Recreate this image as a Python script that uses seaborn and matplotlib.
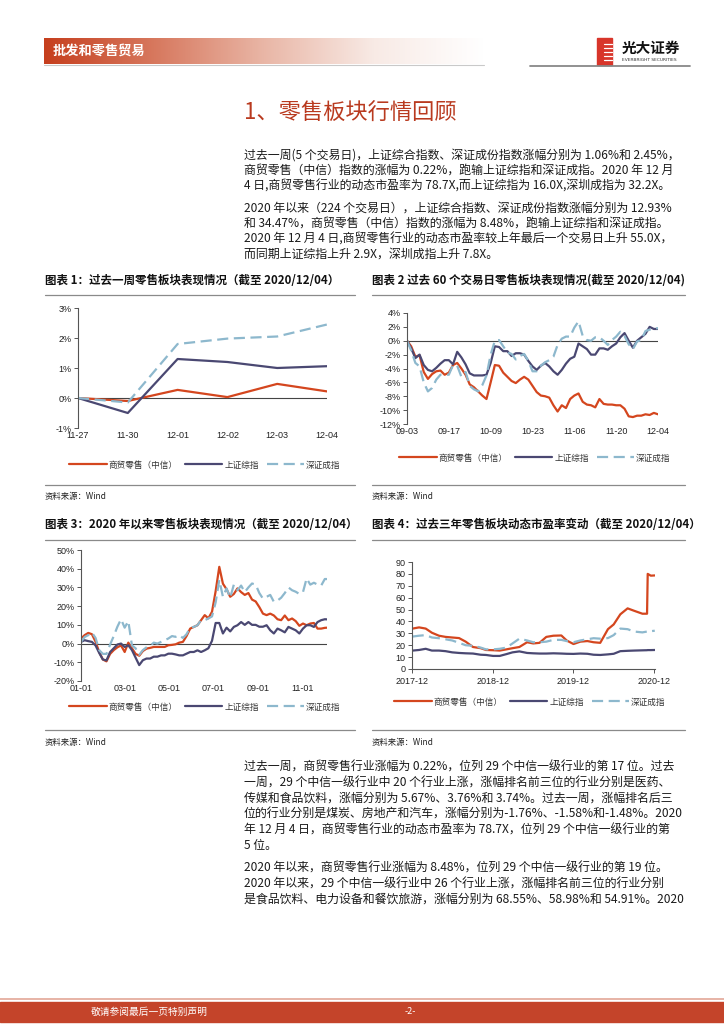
import numpy as np
import pandas as pd
import matplotlib
matplotlib.use("Agg")
import matplotlib.pyplot as plt
import matplotlib.ticker as mticker
import matplotlib.dates as mdates
from matplotlib.lines import Line2D
from matplotlib.patches import Rectangle
from matplotlib.colors import LinearSegmentedColormap
import seaborn as sns

sns.set_theme(style="white")
plt.rcParams["font.family"] = ["Noto Sans CJK SC", "DejaVu Sans"]
plt.rcParams["axes.unicode_minus"] = False

W, H = 724, 1024
RED = "#D4461E"
NAVY = "#4A4872"
BLUE = "#8DB8CD"
SERIES = ["商贸零售（中信）", "上证综指", "深证成指"]

# 图表1: past week, cumulative %
week_days = ["11-27", "11-30", "12-01", "12-02", "12-03", "12-04"]
week_retail = [0.0, -0.10, 0.27, 0.03, 0.47, 0.22]
week_sh = [0.0, -0.50, 1.30, 1.20, 1.00, 1.06]
week_sz = [0.0, -0.15, 1.80, 1.98, 2.05, 2.45]

# 图表2: past 60 trading days, cumulative %
d60_labels = ["09-03", "09-17", "10-09", "10-23", "11-06", "11-20", "12-04"]
d60_retail = [0.0, -0.8, -2.3, -2.1, -4.5, -5.5, -4.8, -4.4, -4.3, -4.9,
              -4.6, -3.5, -3.2, -4.0, -4.9, -6.3, -6.7, -7.3, -7.9, -8.4,
              -6.0, -3.5, -3.6, -4.6, -5.2, -5.8, -6.1, -5.6, -5.2, -5.6,
              -6.5, -7.4, -7.9, -8.0, -8.2, -9.3, -10.2, -9.3, -9.7, -8.4,
              -7.9, -7.6, -8.8, -9.2, -9.3, -9.6, -8.4, -9.1, -9.2, -9.2,
              -9.3, -9.3, -9.8, -10.9, -11.0, -10.8, -10.8, -10.6, -10.7, -10.4,
              -10.6]
d60_sh = [0.0, -1.1, -2.5, -2.0, -3.5, -4.2, -4.4, -3.9, -3.3, -2.8,
          -2.8, -3.4, -1.6, -2.4, -3.4, -4.7, -5.0, -5.0, -5.0, -4.9,
          -3.2, -0.8, -0.9, -1.5, -1.5, -2.2, -1.8, -1.8, -2.0, -2.9,
          -3.7, -4.2, -3.6, -3.2, -3.7, -4.4, -4.9, -4.2, -3.3, -2.6,
          -2.3, -0.4, -0.8, -1.2, -2.0, -2.0, -1.1, -1.1, -1.3, -0.8,
          -0.4, 0.5, 1.1, 0.0, -1.0, 0.0, 0.5, 1.0, 2.0, 1.7,
          1.7]
d60_sz = [0.0, -1.4, -3.2, -3.7, -6.0, -7.3, -6.8, -5.6, -4.9, -4.9,
          -4.9, -3.5, -3.6, -5.2, -4.5, -6.5, -7.0, -7.3, -6.4, -5.0,
          -2.0, 0.0, 0.1, -0.8, -1.7, -1.9, -2.7, -2.2, -1.9, -2.9,
          -4.4, -4.4, -3.6, -3.1, -2.8, -2.3, -0.6, 0.3, 0.6, 0.6,
          1.9, 2.8, 0.7, 0.1, 0.0, 0.5, 0.5, 0.0, -0.6, 0.1,
          0.6, 1.3, 0.7, -0.5, -1.2, -0.1, 0.1, 1.4, 1.6, 1.8,
          1.8]

# 图表3: year to date, cumulative %
ytd_dates = ["01-01", "01-06", "01-11", "01-16", "01-21", "01-26", "01-31",
             "02-05", "02-10", "02-15", "02-20", "02-25",
             "03-01", "03-06", "03-11", "03-16", "03-21", "03-26", "03-31",
             "04-05", "04-10", "04-15", "04-20", "04-25", "04-30",
             "05-05", "05-10", "05-15", "05-20", "05-25", "05-30",
             "06-04", "06-09", "06-14", "06-19", "06-24", "06-29",
             "07-04", "07-09", "07-14", "07-19", "07-24", "07-29",
             "08-03", "08-08", "08-13", "08-18", "08-23", "08-28",
             "09-02", "09-07", "09-12", "09-17", "09-22", "09-27",
             "10-02", "10-07", "10-12", "10-17", "10-22", "10-27",
             "11-01", "11-06", "11-11", "11-16", "11-21", "11-26",
             "12-01", "12-04"]
ytd_retail = [2.7, 4.5, 5.7, 5.0, 1.0, -4.5, -8.5, -9.5, -5.5, -3.5,
              -2.0, -1.0, -4.5, 0.5, -2.5, -5.5, -6.5, -4.0, -2.7, -2.3,
              -1.8, -1.8, -1.8, -1.8, -0.9, -0.7, -0.4, 0.5, 0.9, 4.0,
              8.0, 8.9, 9.8, 12.5, 15.2, 13.5, 17.0, 28.0, 41.0, 32.0,
              29.0, 25.0, 26.5, 29.5, 27.5, 26.0, 27.0, 23.5, 22.5, 19.5,
              16.0, 15.2, 16.0, 15.0, 13.0, 12.5, 15.0, 12.5, 13.4, 12.0,
              9.5, 10.7, 9.8, 10.7, 11.0, 8.0, 8.0, 8.4, 8.48]
ytd_sh = [0.9, 1.8, 1.3, 0.9, -1.0, -5.0, -8.5, -9.0, -4.5, -2.5,
          -0.5, 0.0, -1.8, -0.9, -3.5, -7.5, -11.5, -8.9, -8.0, -8.0,
          -7.0, -7.0, -6.3, -6.3, -5.4, -5.4, -5.8, -6.3, -6.3, -5.4,
          -4.5, -4.5, -3.6, -4.5, -3.6, -2.5, 1.5, 11.0, 11.0, 5.4,
          8.5, 6.5, 8.9, 9.8, 11.5, 10.0, 11.5, 10.0, 10.0, 9.0,
          9.0, 9.8, 7.1, 5.4, 8.0, 7.1, 6.0, 8.9, 8.0, 7.1,
          5.4, 8.0, 9.8, 9.8, 8.9, 11.5, 12.5, 13.0, 12.93]
ytd_sz = [0.9, 3.5, 4.5, 5.9, 3.0, -3.5, -5.5, -5.5, -0.5, 4.0,
          9.0, 13.0, 8.5, 12.0, -1.0, -2.5, -6.0, -3.5, -2.0, -1.2,
          0.5, 0.0, 0.9, 1.8, 2.7, 4.0, 3.6, 4.5, 3.0, 5.0,
          8.5, 8.9, 9.8, 12.5, 12.5, 13.4, 14.5, 22.0, 34.0, 25.0,
          29.5, 24.5, 31.5, 28.5, 31.0, 27.5, 30.0, 32.1, 31.5, 27.0,
          24.0, 25.0, 26.0, 22.3, 23.0, 24.5, 27.0, 30.0, 28.5, 27.7,
          26.5, 27.5, 34.8, 31.5, 32.5, 31.5, 31.0, 34.5, 34.47]

# 图表4: dynamic PE, past three years
pe_dates = ["2017-12-04", "2018-01-02", "2018-02-01", "2018-03-01", "2018-04-02",
            "2018-05-02", "2018-06-01", "2018-07-02", "2018-08-01", "2018-09-03",
            "2018-10-08", "2018-11-01", "2018-12-03", "2019-01-02", "2019-02-01",
            "2019-03-01", "2019-04-01", "2019-05-06", "2019-06-03", "2019-07-01",
            "2019-08-01", "2019-09-02", "2019-10-08", "2019-11-01", "2019-12-02",
            "2020-01-02", "2020-02-03", "2020-03-02", "2020-04-01", "2020-05-06",
            "2020-06-01", "2020-07-01", "2020-08-03", "2020-09-01", "2020-10-09",
            "2020-10-30", "2020-11-02", "2020-11-16", "2020-12-04"]
pe_retail = [34.0, 35.0, 34.0, 30.5, 28.0, 27.0, 26.5, 26.0, 23.0, 18.5,
             17.5, 16.0, 15.8, 15.5, 16.5, 17.5, 18.5, 22.5, 21.5, 22.0,
             27.0, 28.0, 28.2, 24.0, 21.0, 23.0, 23.5, 22.5, 22.0, 33.5,
             37.5, 46.0, 51.0, 49.0, 46.5, 46.5, 80.0, 78.5, 78.7]
pe_sh = [15.5, 16.0, 17.0, 15.5, 15.5, 15.0, 14.0, 13.5, 13.2, 13.0,
         12.0, 11.8, 11.0, 11.0, 12.5, 14.0, 14.8, 13.5, 13.2, 13.0,
         13.0, 13.2, 13.0, 12.8, 12.7, 13.0, 12.8, 12.0, 11.8, 12.3,
         12.8, 15.0, 15.3, 15.5, 15.7, 15.8, 15.9, 15.9, 16.0]
pe_sz = [27.3, 28.0, 28.5, 26.5, 25.9, 25.0, 24.0, 22.0, 20.0, 19.5,
         18.0, 16.5, 16.5, 17.0, 18.0, 21.5, 25.5, 24.0, 22.5, 22.5,
         23.0, 24.5, 24.5, 23.5, 22.5, 24.0, 25.0, 25.9, 25.5, 26.0,
         28.5, 34.0, 33.5, 31.5, 30.8, 31.5, 32.0, 31.8, 32.2]

para_top = [
    "过去一周(5 个交易日)，上证综合指数、深证成份指数涨幅分别为 1.06%和 2.45%，",
    "商贸零售（中信）指数的涨幅为 0.22%，跑输上证综指和深证成指。2020 年 12 月",
    "4 日,商贸零售行业的动态市盈率为 78.7X,而上证综指为 16.0X,深圳成指为 32.2X。",
]
para_top2 = [
    "2020 年以来（224 个交易日），上证综合指数、深证成份指数涨幅分别为 12.93%",
    "和 34.47%，商贸零售（中信）指数的涨幅为 8.48%，跑输上证综指和深证成指。",
    "2020 年 12 月 4 日,商贸零售行业的动态市盈率较上年最后一个交易日上升 55.0X，",
    "而同期上证综指上升 2.9X，深圳成指上升 7.8X。",
]
para_low = [
    "过去一周，商贸零售行业涨幅为 0.22%，位列 29 个中信一级行业的第 17 位。过去",
    "一周，29 个中信一级行业中 20 个行业上涨，涨幅排名前三位的行业分别是医药、",
    "传媒和食品饮料，涨幅分别为 5.67%、3.76%和 3.74%。过去一周，涨幅排名后三",
    "位的行业分别是煤炭、房地产和汽车，涨幅分别为-1.76%、-1.58%和-1.48%。2020",
    "年 12 月 4 日，商贸零售行业的动态市盈率为 78.7X，位列 29 个中信一级行业的第",
    "5 位。",
]
para_low2 = [
    "2020 年以来，商贸零售行业涨幅为 8.48%，位列 29 个中信一级行业的第 19 位。",
    "2020 年以来，29 个中信一级行业中 26 个行业上涨，涨幅排名前三位的行业分别",
    "是食品饮料、电力设备和餐饮旅游，涨幅分别为 68.55%、58.98%和 54.91%。2020",
]

fig = plt.figure(figsize=(W / 100, H / 100), dpi=100)


def fx(x):
    return x / W


def fy(y):
    return 1 - y / H


def put(x, y, s, **kw):
    kw.setdefault("va", "center")
    fig.text(fx(x), fy(y), s, **kw)


def hline(x0, x1, y, color="#8a8a8a", lw=0.9):
    fig.add_artist(Line2D([fx(x0), fx(x1)], [fy(y), fy(y)], color=color,
                          lw=lw, transform=fig.transFigure))


def add_axes(x0, x1, y_top, y_bot):
    return fig.add_axes([fx(x0), fy(y_bot), (x1 - x0) / W, (y_bot - y_top) / H])


def draw_series(ax, x, retail, sh, sz):
    sns.lineplot(x=x, y=retail, ax=ax, color=RED, lw=1.6, label=SERIES[0])
    sns.lineplot(x=x, y=sh, ax=ax, color=NAVY, lw=1.6, label=SERIES[1])
    sns.lineplot(x=x, y=sz, ax=ax, color=BLUE, lw=1.6, ls=(0, (5, 2.5)),
                 label=SERIES[2])


def style(ax, zero_line=True):
    for s in ["top", "right", "bottom"]:
        ax.spines[s].set_visible(False)
    ax.spines["left"].set_color("#555555")
    ax.spines["left"].set_linewidth(0.8)
    ax.tick_params(axis="y", left=True, direction="out", length=3, width=0.7,
                   color="#555555", labelsize=6.5, pad=1.5,
                   labelfontfamily="Liberation Sans", labelcolor="#222222")
    ax.tick_params(axis="x", bottom=False, length=0, labelsize=6.5, pad=2.5,
                   labelfontfamily="Liberation Sans", labelcolor="#222222")
    if zero_line:
        ax.axhline(0, color="#444444", lw=0.8, zorder=1)
    ax.set_xlabel("")
    ax.set_ylabel("")
    ax.grid(False)


def legend(ax, cx, cy):
    h, l = ax.get_legend_handles_labels()
    ax.legend(h, l, loc="center", bbox_to_anchor=(fx(cx), fy(cy)),
              bbox_transform=fig.transFigure, ncol=3, frameon=False,
              fontsize=6.2, handlelength=4.3, handletextpad=0.25,
              columnspacing=0.9, labelcolor="#333333")


def frame(x0, x1, y_title, y_top, y_bot, y_src, title):
    put(x0, y_title, title, fontsize=8.3, fontweight="bold", color="#111111")
    hline(x0, x1, y_top)
    hline(x0, x1, y_bot)
    put(x0, y_src, "资料来源：Wind", fontsize=6, color="#222222")


pct = mticker.FuncFormatter(lambda v, p: f"{v:.0f}%")

# header
band = fig.add_axes([fx(44), fy(64), (484 - 44) / W, (64 - 38) / H])
band_cmap = LinearSegmentedColormap.from_list(
    "band", ["#C63F1E", "#D7785E", "#E9B6A6", "#F8EAE5", "#FFFFFF"])
band.imshow(np.linspace(0, 1, 256)[None, :], aspect="auto", cmap=band_cmap,
            extent=(0, 1, 0, 1))
band.axis("off")
put(53, 51, "批发和零售贸易", fontsize=9.5, fontweight="bold", color="white")
hline(44, 484, 65, color="#c9c9c9", lw=0.8)
fig.add_artist(Rectangle((fx(597), fy(65)), 15 / W, 27 / H, color="#D8352A",
                         transform=fig.transFigure))
for yy in [44, 48, 52, 56, 60]:
    hline(604, 612, yy, color="white", lw=0.9)
put(622, 48, "光大证券", fontsize=10.5, fontweight="bold", color="#111111")
put(622, 60, "EVERBRIGHT SECURITIES", fontsize=3.2, color="#333333",
    family="DejaVu Sans")
hline(530, 690, 66, color="#888888", lw=1.3)

# section title and top text
put(244, 113, "1、零售板块行情回顾", fontsize=16, color="#B93A1F")
for i, s in enumerate(para_top):
    put(244, 155 + i * 15.5, s, fontsize=8.6, color="#1a1a1a")
for i, s in enumerate(para_top2):
    put(244, 208 + i * 15.3, s, fontsize=8.6, color="#1a1a1a")

# chart 1
frame(45, 355, 280, 295, 485, 496,
      "图表 1：过去一周零售板块表现情况（截至 2020/12/04）")
ax1 = add_axes(78, 327, 308, 428)
draw_series(ax1, list(range(len(week_days))), week_retail, week_sh, week_sz)
style(ax1)
ax1.set_xlim(0, len(week_days) - 1)
ax1.set_ylim(-1, 3)
ax1.set_yticks(range(-1, 4))
ax1.yaxis.set_major_formatter(pct)
ax1.set_xticks(range(len(week_days)))
ax1.set_xticklabels(week_days)
legend(ax1, 205, 465)

# chart 2
frame(372, 685, 280, 295, 485, 496,
      "图表 2 过去 60 个交易日零售板块表现情况(截至 2020/12/04)")
ax2 = add_axes(407, 658, 313, 424)
draw_series(ax2, list(range(len(d60_retail))), d60_retail, d60_sh, d60_sz)
style(ax2)
ax2.set_xlim(0, len(d60_retail) - 1)
ax2.set_ylim(-12, 4)
ax2.set_yticks(range(-12, 5, 2))
ax2.yaxis.set_major_formatter(pct)
ax2.set_xticks(range(0, len(d60_retail), 10))
ax2.set_xticklabels(d60_labels)
legend(ax2, 535, 458)

# chart 3
frame(45, 355, 525, 540, 730, 742,
      "图表 3：2020 年以来零售板块表现情况（截至 2020/12/04）")
ax3 = add_axes(81, 327, 550, 681)
ytd_x = pd.to_datetime(["2020-" + d for d in ytd_dates])
draw_series(ax3, ytd_x, ytd_retail, ytd_sh, ytd_sz)
style(ax3)
ax3.set_xlim(ytd_x[0], ytd_x[-1])
ax3.set_ylim(-20, 50)
ax3.set_yticks(range(-20, 51, 10))
ax3.yaxis.set_major_formatter(pct)
ax3.set_xticks(pd.to_datetime(["2020-01-01", "2020-03-01", "2020-05-01",
                               "2020-07-01", "2020-09-01", "2020-11-01"]))
ax3.xaxis.set_major_formatter(mdates.DateFormatter("%m-%d"))
legend(ax3, 205, 707)

# chart 4
frame(372, 685, 525, 540, 730, 742,
      "图表 4：过去三年零售板块动态市盈率变动（截至 2020/12/04）")
ax4 = add_axes(412, 655, 562, 669)
pe_x = pd.to_datetime(pe_dates)
draw_series(ax4, pe_x, pe_retail, pe_sh, pe_sz)
style(ax4, zero_line=False)
ax4.spines["bottom"].set_visible(True)
ax4.spines["bottom"].set_color("#555555")
ax4.spines["bottom"].set_linewidth(0.8)
ax4.tick_params(axis="x", bottom=True, direction="out", length=3, width=0.7,
                color="#555555", pad=3)
ax4.set_xlim(pd.Timestamp("2017-12-01"), pd.Timestamp("2020-12-05"))
ax4.set_ylim(0, 90)
ax4.set_yticks(range(0, 91, 10))
ax4.set_xticks(pd.to_datetime(["2017-12-01", "2018-12-01", "2019-12-01",
                               "2020-12-01"]))
ax4.xaxis.set_major_formatter(mdates.DateFormatter("%Y-%m"))
legend(ax4, 530, 702)

# lower text
for i, s in enumerate(para_low):
    put(244, 767 + i * 15.8, s, fontsize=8.6, color="#1a1a1a")
for i, s in enumerate(para_low2):
    put(244, 868 + i * 15.8, s, fontsize=8.6, color="#1a1a1a")

# footer
hline(0, 724, 999, color="#E3A797", lw=1.2)
fig.add_artist(Rectangle((0, fy(1022)), 1, 20 / H, color="#C4442A",
                         transform=fig.transFigure))
put(91, 1012, "敬请参阅最后一页特别声明", fontsize=7, color="white")
put(410, 1012, "-2-", fontsize=6.5, color="white", ha="center")

fig.savefig("out.png", dpi=100)
